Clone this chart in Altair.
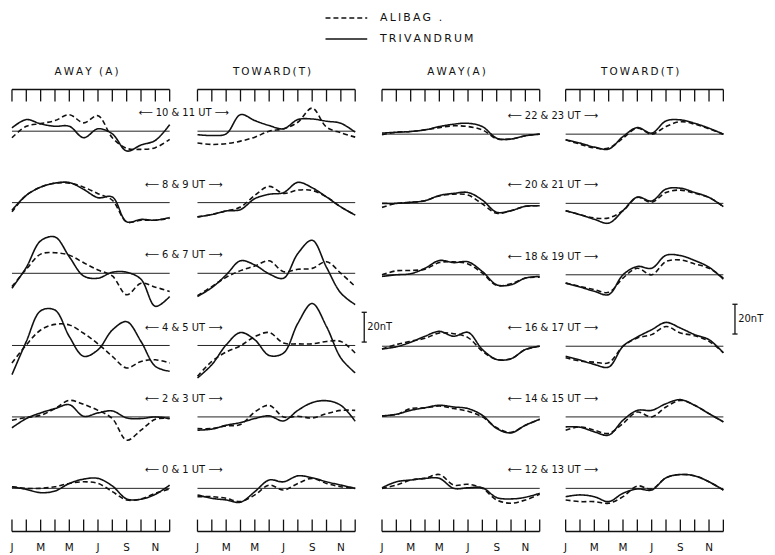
import altair as alt
import pandas as pd

# ---------------- data (nT, monthly Jan..Dec) ----------------
MONTHS = list(range(1, 13))
MONTH_TICK_LABELS = ["J", "M", "M", "J", "S", "N"]
MONTH_LABEL_AT = [1, 3, 5, 7, 9, 11]
COLUMN_TITLES = ["AWAY (A)", "TOWARD(T)", "AWAY(A)", "TOWARD(T)"]
UT_LEFT = ["10 & 11 UT", "8 & 9 UT", "6 & 7 UT", "4 & 5 UT", "2 & 3 UT", "0 & 1 UT"]
UT_RIGHT = ["22 & 23 UT", "20 & 21 UT", "18 & 19 UT", "16 & 17 UT", "14 & 15 UT", "12 & 13 UT"]
SERIES = ["ALIBAG", "TRIVANDRUM"]
LEGEND_TEXT = ["ALIBAG .", "TRIVANDRUM"]

# AWAY / TOWARD, UT 0-11 (left block)
A_10_alibag = [-4.4, 3.3, 5.1, 7.1, 11.1, 5.6, 10.4, -4.4, -11.5, -12.2, -11.1, -5.5]
A_10_triv = [2.2, 7.8, 4.9, 3.3, 3.3, -4.4, 1.6, -1.8, -13.3, -9.3, -6.2, 4.4]
T_10_alibag = [-8.0, -8.9, -8.4, -6.7, -4.0, 0.0, 1.6, 6.0, 15.5, 2.7, -1.1, -4.0]
T_10_triv = [-2.4, -2.9, -1.8, 11.1, 7.1, 3.8, 1.6, 7.8, 8.2, 6.7, 5.3, -0.7]

A_8_alibag = [-6.2, 4.9, 10.4, 13.1, 13.1, 10.4, 6.0, 1.6, -12.9, -11.8, -11.8, -10.5]
A_8_triv = [-5.1, 4.9, 10.4, 13.1, 13.5, 8.9, 3.3, 3.8, -12.9, -11.3, -11.8, -10.0]
T_8_alibag = [-9.6, -8.0, -5.6, -3.0, 4.9, 10.9, 6.2, 8.4, 8.2, 3.8, -2.9, -8.4]
T_8_triv = [-9.6, -8.0, -5.6, -4.7, 2.7, 5.6, 6.7, 13.6, 10.0, 3.8, -2.9, -8.4]

A_6_alibag = [-8.9, 2.7, 12.9, 13.8, 12.2, 7.1, 2.2, -1.8, -14.4, -6.7, -9.3, -12.2]
A_6_triv = [-10.0, 4.0, 21.8, 24.4, 11.1, -1.8, -3.3, 0.7, 0.7, -4.0, -22.2, -15.6]
T_6_alibag = [-15.1, -8.9, -2.7, 1.8, 4.9, 8.4, 1.1, 2.7, 3.3, 7.8, 0.0, -8.9]
T_6_triv = [-15.6, -9.6, -1.1, 8.4, 5.6, -0.4, -3.3, 13.3, 22.2, 4.0, -13.3, -21.0]

A_4_alibag = [-11.8, 0.4, 10.4, 14.2, 13.8, 8.2, 1.1, -7.3, -15.1, -10.7, -9.6, -11.8]
A_4_triv = [-19.6, 2.7, 23.3, 23.8, 6.0, -7.3, -2.9, 10.4, 16.0, 2.7, -14.0, -17.3]
T_4_alibag = [-20.7, -10.7, -4.4, -0.2, 6.0, 8.7, 1.6, 1.1, 1.1, 2.7, 2.7, -5.1]
T_4_triv = [-21.8, -12.9, 0.4, 8.7, 3.8, -6.7, -5.1, 14.9, 28.2, 12.7, -8.4, -18.4]

A_2_alibag = [-2.2, -0.4, 1.1, 5.6, 11.1, 8.4, 4.4, -1.1, -15.6, -8.9, -1.6, -1.1]
A_2_triv = [-7.3, -1.1, 2.7, 5.6, 8.2, 0.4, 2.7, 4.0, -0.7, -1.1, 0.0, -1.1]
T_2_alibag = [-7.8, -7.8, -6.0, -5.1, 3.3, 7.8, 0.0, 0.4, -0.7, 2.2, 4.4, 4.4]
T_2_triv = [-8.9, -8.2, -5.6, -3.8, -1.1, 0.7, -2.7, 4.4, 9.6, 10.9, 7.8, -2.9]

A_0_alibag = [1.1, 0.0, 0.0, 1.1, 3.3, 4.4, 3.3, -2.2, -7.8, -7.1, -3.3, -0.4]
A_0_triv = [1.1, -0.7, -2.9, -1.8, 3.3, 6.2, 6.7, 1.6, -7.1, -7.3, -4.0, 2.2]
T_0_alibag = [-5.6, -5.6, -6.7, -8.9, -4.4, 2.2, -1.1, 3.3, 6.7, 3.3, 1.1, 0.0]
T_0_triv = [-4.4, -6.7, -7.8, -9.3, -2.2, 5.6, 4.4, 8.4, 7.1, 4.4, 2.2, 0.0]

# AWAY / TOWARD, UT 12-23 (right block)
A_22_alibag = [-0.4, 1.3, 1.8, 2.9, 4.4, 5.6, 5.1, 2.9, -3.1, -3.3, -1.1, 0.0]
A_22_triv = [0.7, 1.3, 1.8, 2.9, 5.1, 6.7, 7.3, 5.1, -2.7, -3.3, -1.1, 0.0]
T_22_alibag = [-3.8, -6.7, -9.3, -9.3, -2.7, 4.0, 0.0, 5.1, 8.4, 6.7, 3.6, 0.0]
T_22_triv = [-3.8, -6.0, -8.7, -10.0, -1.6, 4.4, 0.7, 8.9, 9.6, 7.3, 4.0, 0.0]

A_20_alibag = [-2.7, 0.0, 0.7, 1.8, 5.0, 6.2, 5.6, -0.4, -6.7, -4.9, -2.0, -1.6]
A_20_triv = [0.0, 0.0, 0.7, 1.8, 5.3, 6.7, 7.3, 2.2, -6.0, -4.9, -2.0, -1.6]
T_20_alibag = [-4.9, -7.6, -9.8, -9.8, -4.9, 4.0, 0.7, 7.3, 8.9, 6.7, 4.0, -2.2]
T_20_triv = [-4.9, -7.6, -10.7, -13.3, -4.9, 4.2, 1.6, 9.6, 10.2, 7.3, 4.0, -2.2]

A_18_alibag = [0.0, 2.7, 2.9, 3.8, 8.2, 8.7, 7.3, 1.1, -7.1, -6.0, -2.2, -1.6]
A_18_triv = [-1.1, 0.0, 0.7, 4.4, 9.6, 8.2, 8.7, 2.2, -6.7, -6.7, -2.2, -1.1]
T_18_alibag = [-5.6, -7.8, -10.0, -11.8, -2.2, 4.4, 0.0, 8.9, 10.0, 7.3, 4.4, -2.2]
T_18_triv = [-5.6, -8.2, -11.1, -13.3, 0.0, 5.6, 4.4, 13.1, 12.9, 9.6, 5.1, -2.9]

A_16_alibag = [-1.8, 1.1, 3.3, 5.3, 8.9, 8.4, 5.8, -3.3, -8.9, -8.4, -2.2, 0.0]
A_16_triv = [-1.8, -0.4, 2.7, 6.7, 10.0, 6.7, 9.3, -2.2, -8.9, -8.4, -2.2, 0.0]
T_16_alibag = [-7.8, -10.0, -10.7, -11.1, 0.0, 5.6, 7.8, 13.3, 8.9, 7.1, 3.3, -4.4]
T_16_triv = [-6.7, -9.3, -12.2, -14.0, 0.0, 6.2, 11.1, 16.0, 12.2, 7.8, 4.4, -4.4]

A_14_alibag = [0.7, 1.6, 5.6, 6.0, 7.3, 5.6, 3.8, 0.0, -7.3, -10.4, -5.6, -1.6]
A_14_triv = [0.7, 1.8, 4.4, 6.2, 7.8, 6.7, 5.6, 1.1, -7.8, -10.7, -5.6, -1.6]
T_14_alibag = [-8.9, -6.7, -8.9, -11.1, -4.4, 3.3, 0.0, 6.7, 11.1, 7.8, 2.2, -3.3]
T_14_triv = [-6.7, -6.9, -10.0, -12.2, -2.2, 4.4, 4.4, 8.9, 11.6, 7.8, 2.2, -3.3]

A_12_alibag = [0.0, 2.2, 5.6, 6.7, 9.3, 2.2, 2.7, 0.0, -7.8, -10.0, -7.8, -4.0]
A_12_triv = [0.4, 4.4, 5.6, 6.7, 6.7, 0.0, 0.4, 0.4, -6.2, -7.1, -6.0, -3.3]
T_12_alibag = [-7.8, -8.9, -8.9, -10.0, -5.6, 1.6, -0.4, 7.1, 9.3, 8.4, 4.4, -1.1]
T_12_triv = [-5.6, -4.4, -5.6, -8.9, -3.3, -0.4, -1.1, 7.1, 9.3, 8.4, 4.4, -1.1]

# (column, row, alibag, trivandrum)
PANELS = [
    (0, 0, A_10_alibag, A_10_triv), (1, 0, T_10_alibag, T_10_triv),
    (0, 1, A_8_alibag, A_8_triv), (1, 1, T_8_alibag, T_8_triv),
    (0, 2, A_6_alibag, A_6_triv), (1, 2, T_6_alibag, T_6_triv),
    (0, 3, A_4_alibag, A_4_triv), (1, 3, T_4_alibag, T_4_triv),
    (0, 4, A_2_alibag, A_2_triv), (1, 4, T_2_alibag, T_2_triv),
    (0, 5, A_0_alibag, A_0_triv), (1, 5, T_0_alibag, T_0_triv),
    (2, 0, A_22_alibag, A_22_triv), (3, 0, T_22_alibag, T_22_triv),
    (2, 1, A_20_alibag, A_20_triv), (3, 1, T_20_alibag, T_20_triv),
    (2, 2, A_18_alibag, A_18_triv), (3, 2, T_18_alibag, T_18_triv),
    (2, 3, A_16_alibag, A_16_triv), (3, 3, T_16_alibag, T_16_triv),
    (2, 4, A_14_alibag, A_14_triv), (3, 4, T_14_alibag, T_14_triv),
    (2, 5, A_12_alibag, A_12_triv), (3, 5, T_12_alibag, T_12_triv),
]

# ---------------- layout (in month / nT units) ----------------
W, H = 765, 545
PX_PER_MONTH = 14.45
PX_PER_NT = 1.5
X_MIN = 0.723
Y_MAX = 81.33
XS = alt.Scale(domain=[X_MIN, X_MIN + W / PX_PER_MONTH], nice=False, zero=False)
YS = alt.Scale(domain=[Y_MAX - H / PX_PER_NT, Y_MAX], nice=False, zero=False)
COL_OFFSET = [0.0, 12.94, 25.81, 38.62]
ROW_BASE = {0: [0, -48, -95.5, -144, -192, -240], 1: [0, -48, -95.5, -144, -192, -240],
            2: [-2, -48.5, -96.5, -144.5, -192, -240], 3: [-2, -48.5, -96.5, -144.5, -192, -240]}
TOP_BOX_Y, TOP_TICK_Y = 28, 20
BOT_BOX_Y, BOT_TICK_Y = -269, -261
MONTH_LABEL_Y = -280
TITLE_Y = 40
FONT = "DejaVu Sans"
THIN = "\u2009"


def xq(f):
    return alt.X(f"{f}:Q", scale=XS, axis=None)


def yq(f):
    return alt.Y(f"{f}:Q", scale=YS, axis=None)


# curves
rows = []
for col, row, ali, tri in PANELS:
    for s, vals in zip(SERIES, [ali, tri]):
        for m, v in zip(MONTHS, vals):
            rows.append({"panel": f"{col}-{row}", "series": s, "month": m,
                         "x": m + COL_OFFSET[col], "y": v + ROW_BASE[col][row]})
curves_df = pd.DataFrame(rows)

base_df = pd.DataFrame([{"x": 1 + COL_OFFSET[c], "x2": 12 + COL_OFFSET[c], "y": ROW_BASE[c][r]}
                        for c, r, _, _ in PANELS])

# tick boxes
box_h, box_v = [], []
for c in range(4):
    for yb in (TOP_BOX_Y, BOT_BOX_Y):
        box_h.append({"x": 1 + COL_OFFSET[c], "x2": 12 + COL_OFFSET[c], "y": yb})
    for m in MONTHS:
        box_v.append({"x": m + COL_OFFSET[c], "y": TOP_BOX_Y, "y2": TOP_TICK_Y})
        box_v.append({"x": m + COL_OFFSET[c], "y": BOT_BOX_Y, "y2": BOT_TICK_Y})
box_h_df = pd.DataFrame(box_h)
box_v_df = pd.DataFrame(box_v)

month_lab_df = pd.DataFrame([{"x": m + COL_OFFSET[c], "y": MONTH_LABEL_Y, "t": t}
                             for c in range(4) for m, t in zip(MONTH_LABEL_AT, MONTH_TICK_LABELS)])
title_df = pd.DataFrame([{"x": COL_OFFSET[c] + 6.2, "y": TITLE_Y, "t": THIN.join(COLUMN_TITLES[c])}
                         for c in range(4)])

ut_rows = []
for r in range(6):
    ut_rows.append({"x": (12 + COL_OFFSET[0] + 1 + COL_OFFSET[1]) / 2, "y": ROW_BASE[0][r] + 12,
                    "t": "\u27f5 " + UT_LEFT[r] + " \u27f6"})
    ut_rows.append({"x": (12 + COL_OFFSET[2] + 1 + COL_OFFSET[3]) / 2, "y": ROW_BASE[2][r] + 12,
                    "t": "\u27f5 " + UT_RIGHT[r] + " \u27f6"})
ut_df = pd.DataFrame(ut_rows)

# legend
leg_line_df = pd.DataFrame([{"x": 22.87, "x2": 25.78, "y": 76, "series": SERIES[0]},
                            {"x": 22.87, "x2": 25.78, "y": 62, "series": SERIES[1]}])
leg_text_df = pd.DataFrame([{"x": 26.67, "y": 76, "t": THIN.join(LEGEND_TEXT[0])},
                            {"x": 26.67, "y": 62, "t": THIN.join(LEGEND_TEXT[1])}])

# 20 nT scale bars
bar_df = pd.DataFrame([{"x": 25.57, "y": -121.7, "y2": -141.7}, {"x": 51.43, "y": -116.3, "y2": -136.3}])
cap_df = pd.DataFrame([{"x": b["x"] - 0.18, "x2": b["x"] + 0.18, "y": yy}
                       for b in bar_df.to_dict("records") for yy in (b["y"], b["y2"])])
bar_text_df = pd.DataFrame([{"x": 25.78, "y": -131.7, "t": "20nT"}, {"x": 51.66, "y": -126.3, "t": "20nT"}])

dash_scale = alt.Scale(domain=SERIES, range=[[5, 3], [1, 0]])
TXT = dict(font=FONT, color="#111")

baselines = alt.Chart(base_df).mark_rule(color="#222", strokeWidth=1.0).encode(
    x=xq("x"), x2="x2:Q", y=yq("y"))
curves = alt.Chart(curves_df).mark_line(interpolate="catmull-rom", color="#111", strokeWidth=1.6).encode(
    x=xq("x"), y=yq("y"),
    strokeDash=alt.StrokeDash("series:N", scale=dash_scale, legend=None),
    detail="panel:N", order="month:Q")
boxh = alt.Chart(box_h_df).mark_rule(color="#111", strokeWidth=1.4).encode(x=xq("x"), x2="x2:Q", y=yq("y"))
boxv = alt.Chart(box_v_df).mark_rule(color="#111", strokeWidth=1.3).encode(x=xq("x"), y=yq("y"), y2="y2:Q")
mlabels = alt.Chart(month_lab_df).mark_text(fontSize=10.5, **TXT).encode(
    x=xq("x"), y=yq("y"), text="t:N")
titles = alt.Chart(title_df).mark_text(fontSize=10.5, **TXT).encode(
    x=xq("x"), y=yq("y"), text="t:N")
utlab = alt.Chart(ut_df).mark_text(fontSize=10, **TXT).encode(
    x=xq("x"), y=yq("y"), text="t:N")
leg_lines = alt.Chart(leg_line_df).mark_rule(color="#111", strokeWidth=1.5).encode(
    x=xq("x"), x2="x2:Q", y=yq("y"), strokeDash=alt.StrokeDash("series:N", scale=dash_scale, legend=None))
leg_text = alt.Chart(leg_text_df).mark_text(fontSize=11, align="left", **TXT).encode(
    x=xq("x"), y=yq("y"), text="t:N")
bars = alt.Chart(bar_df).mark_rule(color="#111", strokeWidth=1.3).encode(x=xq("x"), y=yq("y"), y2="y2:Q")
caps = alt.Chart(cap_df).mark_rule(color="#111", strokeWidth=1.3).encode(x=xq("x"), x2="x2:Q", y=yq("y"))
bar_text = alt.Chart(bar_text_df).mark_text(fontSize=10, align="left", **TXT).encode(
    x=xq("x"), y=yq("y"), text="t:N")

chart = alt.layer(baselines, curves, boxh, boxv, mlabels, titles, utlab, leg_lines, leg_text,
                  bars, caps, bar_text).properties(
    width=W, height=H, padding=0, autosize=alt.AutoSizeParams(type="none"),
    background="white").configure_view(strokeWidth=0)

chart.save("out.html", embed_options={"renderer": "svg", "actions": False})
